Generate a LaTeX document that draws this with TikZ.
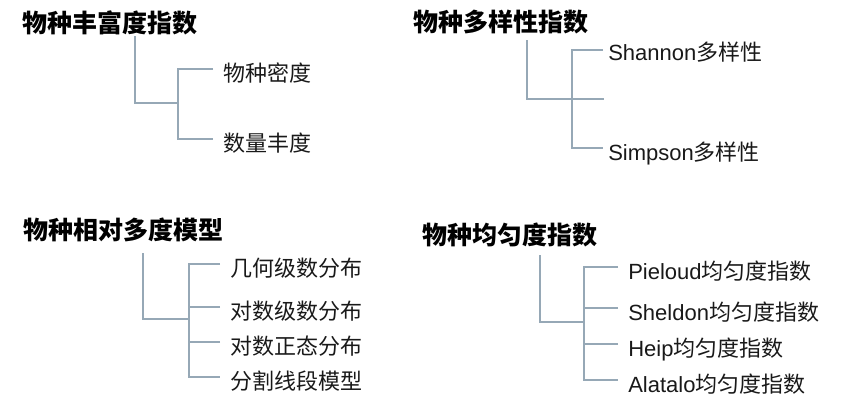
\documentclass[tikz,border=0pt]{standalone}
\usepackage{fontspec}
\setmainfont{Noto Sans CJK SC}
\newfontfamily\latfont{Liberation Sans}
\usepackage{tikz}
\usetikzlibrary{positioning}
\definecolor{linecol}{RGB}{150,168,182}
\definecolor{txtcol}{RGB}{25,25,25}

\begin{document}
\begin{tikzpicture}[
    x=0.75pt, y=-0.75pt,
    head/.style={anchor=west, inner sep=0pt, font=\fontsize{18.75}{22}\selectfont\bfseries},
    leaf/.style={anchor=west, inner xsep=7.5pt, inner ysep=0pt, text=txtcol,
                 text height=18.5pt, text depth=0pt,
                 font=\fontsize{16.5}{20}\selectfont},
    branch/.style={draw=linecol, line width=0.9pt}
]
    \useasboundingbox (0,0) rectangle (845,400);

    % 物种丰富度指数
    \node[head] (t1) at (22,23) {物种丰富度指数};
    \coordinate (s1) at (135,36);
    \coordinate (j1) at (178,103);
    \node[leaf] (a1) at (213,69) {物种密度};
    \node[leaf] (a2) at (213,139) {数量丰度};
    \draw[branch] (s1) |- (j1);
    \draw[branch] (a1.west) -| (j1) |- (a2.west);

    % 物种多样性指数
    \node[head] (t2) at (413,22) {物种多样性指数};
    \coordinate (s2) at (527,40);
    \coordinate (e2) at (604,99);
    \coordinate (j2) at (572,99);
    \node[leaf, inner xsep=3.75pt, text height=16pt] (b1) at (603,50) {{\latfont Shannon}多样性};
    \node[leaf, inner xsep=3.75pt] (b2) at (603,148) {{\latfont Simpson}多样性};
    \draw[branch] (s2) |- (e2);
    \draw[branch] (b1.west) -| (j2) |- (b2.west);

    % 物种相对多度模型
    \node[head] (t3) at (23,230) {物种相对多度模型};
    \coordinate (s3) at (143,253);
    \coordinate (j3) at (189,319);
    \node[leaf] (c1) at (220,264) {几何级数分布};
    \node[leaf] (c2) at (220,307) {对数级数分布};
    \node[leaf] (c3) at (220,342) {对数正态分布};
    \node[leaf] (c4) at (220,377) {分割线段模型};
    \draw[branch] (s3) |- (j3);
    \draw[branch] (c1.west) -| (j3) |- (c4.west);
    \draw[branch] (c2.west) -- (c2.west -| j3);
    \draw[branch] (c3.west) -- (c3.west -| j3);

    % 物种均匀度指数
    \node[head] (t4) at (422,235) {物种均匀度指数};
    \coordinate (s4) at (540,255);
    \coordinate (j4) at (584,322);
    \node[leaf] (d1) at (618,267) {{\latfont Pieloud}均匀度指数};
    \node[leaf] (d2) at (618,308) {{\latfont Sheldon}均匀度指数};
    \node[leaf] (d3) at (618,344) {{\latfont Heip}均匀度指数};
    \node[leaf] (d4) at (618,380) {{\latfont Alatalo}均匀度指数};
    \draw[branch] (s4) |- (j4);
    \draw[branch] (d1.west) -| (j4) |- (d4.west);
    \draw[branch] (d2.west) -- (d2.west -| j4);
    \draw[branch] (d3.west) -- (d3.west -| j4);
\end{tikzpicture}
\end{document}
